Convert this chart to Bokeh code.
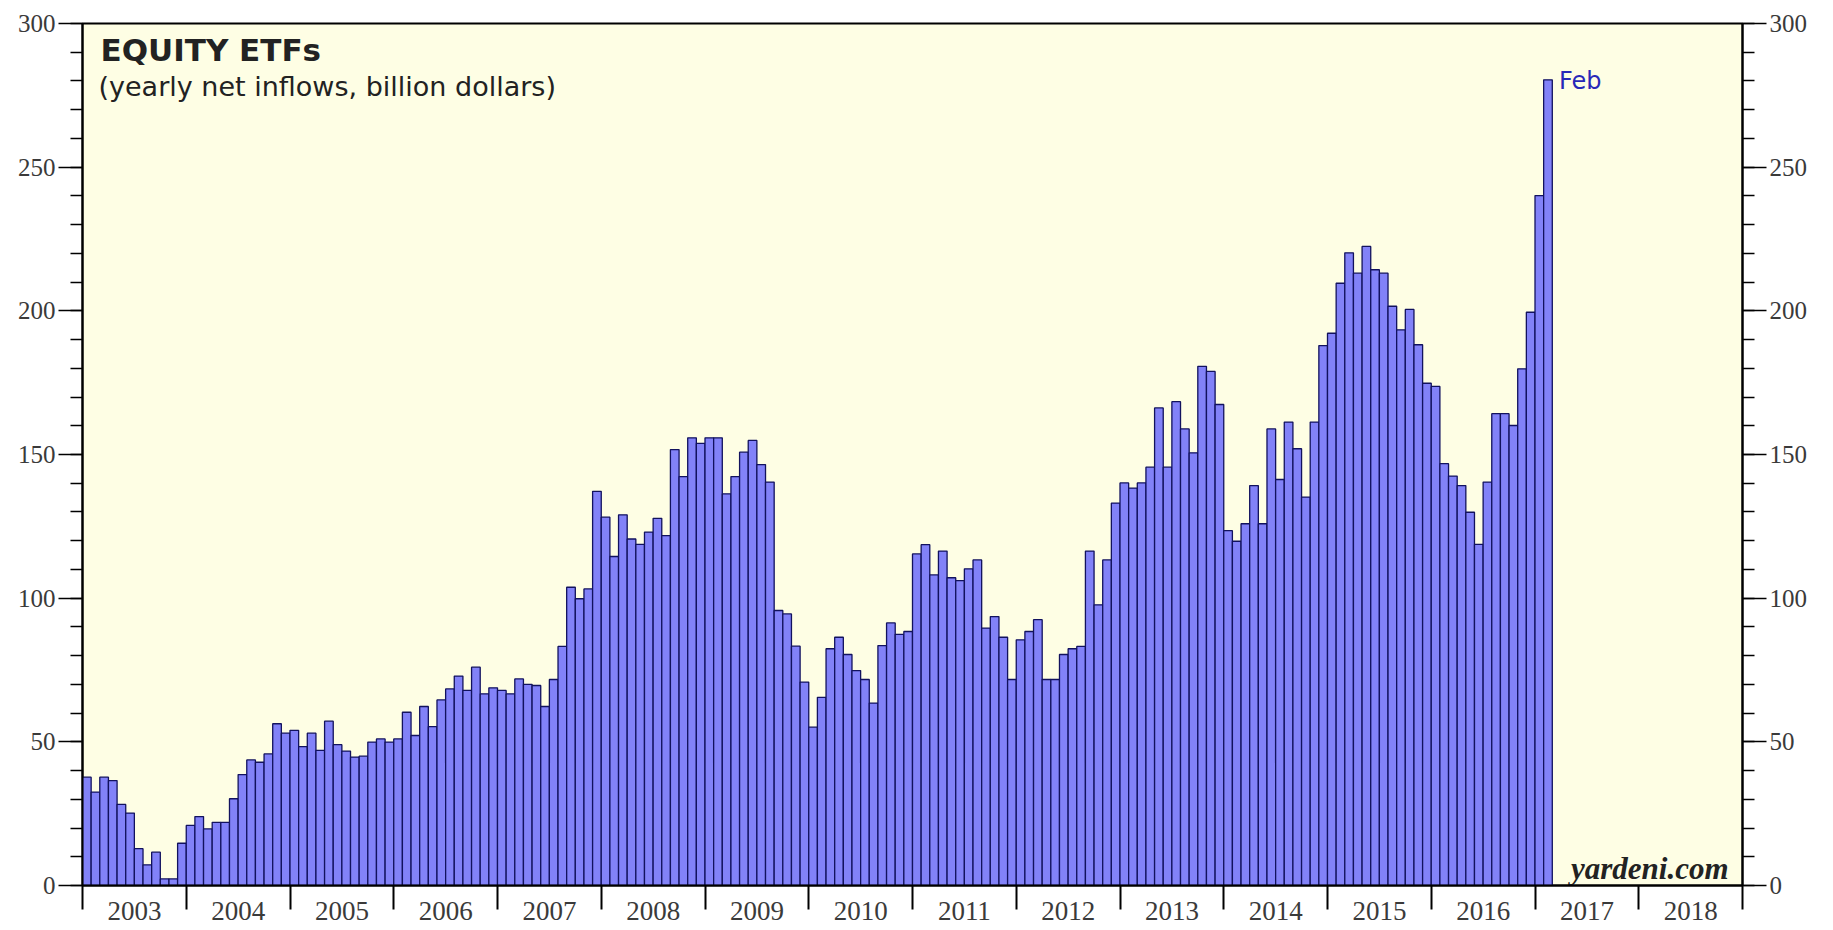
from bokeh.plotting import figure
from bokeh.models import FixedTicker, LinearAxis, Range1d
from bokeh.core.properties import value
from bokeh.embed import file_html
from bokeh.resources import INLINE

# ---- data: yearly net inflows into equity ETFs (billion dollars), monthly readings ----
start_year = 2003
v2003 = [37.7, 32.5, 37.7, 36.5, 28.2, 25.2, 12.8, 7.2, 11.6, 2.3, 2.3, 14.7]
v2004 = [20.9, 24.0, 19.7, 22.0, 22.0, 30.2, 38.6, 43.7, 42.9, 45.8, 56.3, 53.0]
v2005 = [54.0, 48.3, 53.0, 47.0, 57.2, 49.0, 46.8, 44.7, 45.0, 49.9, 51.0, 49.9]
v2006 = [51.0, 60.3, 52.2, 62.3, 55.3, 64.6, 68.4, 72.9, 67.9, 76.0, 66.7, 68.8]
v2007 = [67.9, 66.7, 71.9, 70.0, 69.6, 62.3, 71.7, 83.2, 103.8, 99.8, 103.2, 137.2]
v2008 = [128.2, 114.5, 129.0, 120.6, 118.7, 123.0, 127.8, 121.8, 151.7, 142.3, 155.8, 153.9]
v2009 = [155.8, 155.8, 136.3, 142.3, 150.8, 154.9, 146.5, 140.4, 95.7, 94.5, 83.3, 70.8]
v2010 = [55.1, 65.5, 82.4, 86.4, 80.4, 74.8, 71.7, 63.5, 83.5, 91.4, 87.4, 88.4]
v2011 = [115.4, 118.6, 108.1, 116.4, 107.1, 106.1, 110.2, 113.3, 89.6, 93.6, 86.4, 71.7]
v2012 = [85.5, 88.4, 92.5, 71.7, 71.7, 80.4, 82.4, 83.2, 116.4, 97.7, 113.3, 133.1]
v2013 = [140.1, 138.3, 140.1, 145.6, 166.2, 145.6, 168.4, 158.9, 150.6, 180.7, 178.9, 167.4]
v2014 = [123.5, 119.8, 125.9, 139.2, 125.9, 158.9, 141.3, 161.3, 152.0, 135.2, 161.3, 187.9]
v2015 = [192.2, 209.6, 220.2, 213.1, 222.4, 214.3, 213.1, 201.6, 193.4, 200.5, 188.2, 174.8]
v2016 = [173.7, 146.8, 142.5, 139.2, 129.9, 118.7, 140.4, 164.2, 164.2, 160.1, 179.8, 199.5]
v2017 = [240.1, 280.4]

year_labels = [str(y) for y in range(2003, 2019)]
y_major_ticks = [0, 50, 100, 150, 200, 250, 300]
y_minor_ticks = list(range(0, 301, 10))
last_label = "Feb"
title_text = "EQUITY ETFs"
subtitle_text = "(yearly net inflows, billion dollars)"
source_text = "yardeni.com"

values = (v2003 + v2004 + v2005 + v2006 + v2007 + v2008 + v2009 + v2010 +
          v2011 + v2012 + v2013 + v2014 + v2015 + v2016 + v2017)
xs = [start_year + (i + 0.5) / 12.0 for i in range(len(values))]

x0, x1 = 2003, 2019
p = figure(width=1833, height=930, x_range=Range1d(x0, x1), y_range=Range1d(0, 300),
           output_backend="svg", toolbar_location=None,
           min_border_left=82, min_border_right=91, min_border_top=23, min_border_bottom=45)

p.background_fill_color = "#fefee4"
p.border_fill_color = "white"
p.outline_line_color = "black"
p.outline_line_width = 2
p.grid.visible = False

p.vbar(x=xs, width=1 / 12.0, top=values, bottom=0,
       fill_color="#8282f8", line_color="#12125e", line_width=1.3)

# axes styling
label_font = "Liberation Serif"

def style_y(ax):
    ax.ticker = FixedTicker(ticks=y_major_ticks, minor_ticks=y_minor_ticks)
    ax.axis_line_color = "black"
    ax.axis_line_width = 2
    ax.major_tick_line_color = "black"
    ax.major_tick_line_width = 1.5
    ax.minor_tick_line_color = "black"
    ax.minor_tick_line_width = 1.5
    ax.major_tick_out = 24
    ax.major_tick_in = 0
    ax.minor_tick_out = 12
    ax.minor_tick_in = 0
    ax.major_label_text_font = label_font
    ax.major_label_text_font_size = "25px"
    ax.major_label_text_color = "#3a3a3a"
    ax.major_label_standoff = 3

style_y(p.yaxis[0])
right_axis = LinearAxis()
style_y(right_axis)
p.add_layout(right_axis, "right")

xa = p.xaxis[0]
mid_ticks = [y + 0.5 for y in range(2003, 2019)]
xa.ticker = FixedTicker(ticks=mid_ticks, minor_ticks=list(range(2003, 2020)))
xa.major_label_overrides = {m: lab for m, lab in zip(mid_ticks, year_labels)}
xa.axis_line_color = "black"
xa.axis_line_width = 2
xa.major_tick_line_color = None
xa.major_tick_out = 0
xa.major_tick_in = 0
xa.minor_tick_line_color = "black"
xa.minor_tick_line_width = 2
xa.minor_tick_out = 24
xa.minor_tick_in = 0
xa.major_label_text_font = label_font
xa.major_label_text_font_size = "27px"
xa.major_label_text_color = "#3a3a3a"
xa.major_label_standoff = -8

# title and subtitle
p.text(x=[x0], y=[300], text=[title_text], x_offset=18, y_offset=8,
       text_font=value("DejaVu Sans"), text_font_style="bold",
       text_font_size="31px", text_color="#222222", text_baseline="top")
p.text(x=[x0], y=[300], text=[subtitle_text], x_offset=16, y_offset=47,
       text_font=value("DejaVu Sans"),
       text_font_size="27px", text_color="#222222", text_baseline="top")

# last data point label
p.text(x=[xs[-1]], y=[values[-1]], text=[last_label], x_offset=11, y_offset=1,
       text_font=value("DejaVu Sans"), text_font_size="24px",
       text_color="#2828b8", text_baseline="middle")

# source
p.text(x=[x1], y=[0], text=[source_text], x_offset=-14, y_offset=-17,
       text_font=value("Liberation Serif"), text_font_style="bold italic",
       text_font_size="31px", text_color="#222222", text_align="right",
       text_baseline="alphabetic")

open("out.html", "w").write(file_html(p, INLINE))
